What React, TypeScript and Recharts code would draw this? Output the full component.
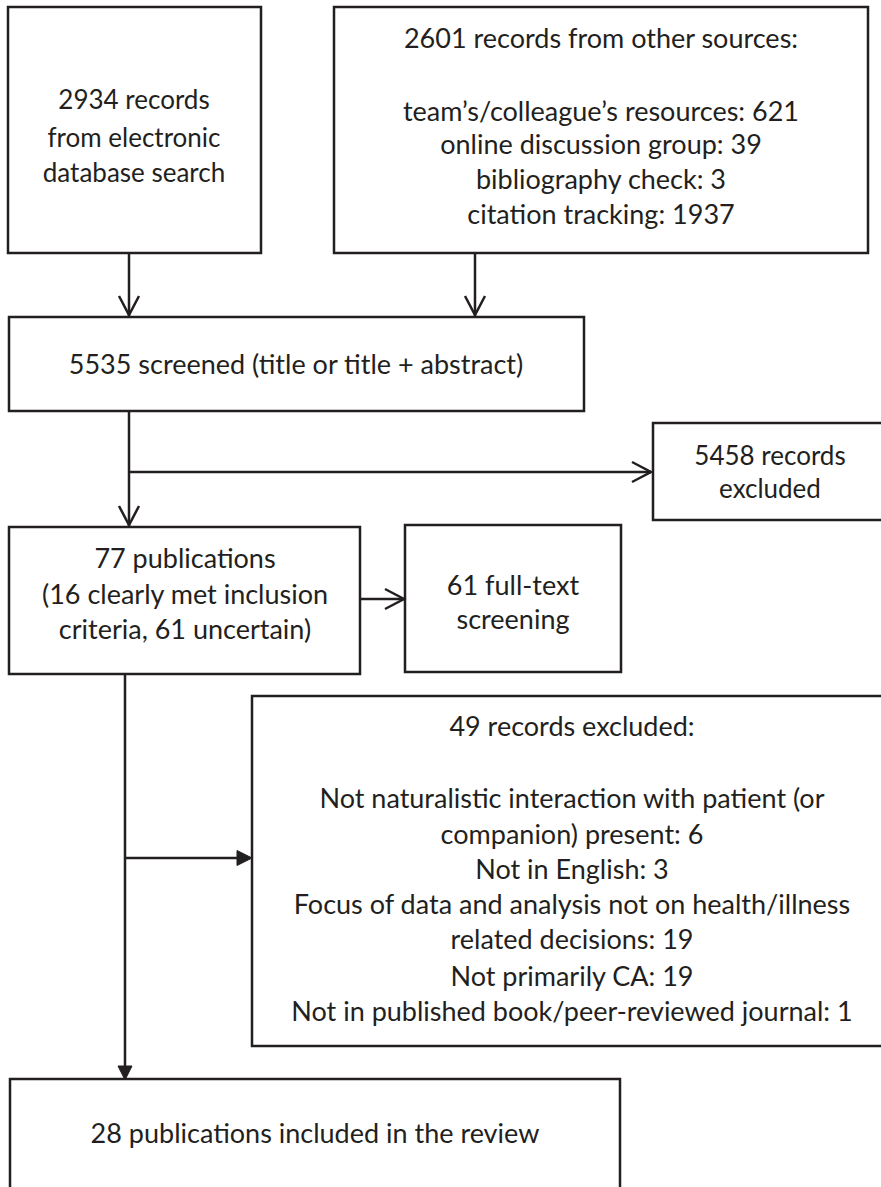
import React from "react";
import {
  ScatterChart,
  Scatter,
  XAxis,
  YAxis,
  ReferenceArea,
  ReferenceLine,
  ReferenceDot,
} from "recharts";

// ---------- data ----------
const databaseRecords = 2934;
const otherSourcesTotal = 2601;
const otherSourceLabels = [
  "team’s/colleague’s resources",
  "online discussion group",
  "bibliography check",
  "citation tracking",
];
const otherSourceCounts = [621, 39, 3, 1937];
const screenedCount = 5535;
const excludedAtScreening = 5458;
const publicationsCount = 77;
const clearlyMetCount = 16;
const uncertainCount = 61;
const fullTextCount = 61;
const excludedFullText = 49;
const exclusionReasons = [
  "Not naturalistic interaction with patient (or|companion) present",
  "Not in English",
  "Focus of data and analysis not on health/illness|related decisions",
  "Not primarily CA",
  "Not in published book/peer-reviewed journal",
];
const exclusionCounts = [6, 3, 19, 19, 1];
const includedCount = 28;

// ---------- texts built from the data ----------
const textA = [`${databaseRecords} records`, "from electronic", "database search"];
const textB = [
  `${otherSourcesTotal} records from other sources:`,
  ...otherSourceLabels.map((l, i) => `${l}: ${otherSourceCounts[i]}`),
];
const textC = [`${screenedCount} screened (title or title + abstract)`];
const textE = [`${excludedAtScreening} records`, "excluded"];
const textD = [
  `${publicationsCount} publications`,
  `(${clearlyMetCount} clearly met inclusion`,
  `criteria, ${uncertainCount} uncertain)`,
];
const textF = [`${fullTextCount} full-text`, "screening"];
const textG = [
  `${excludedFullText} records excluded:`,
  ...exclusionReasons.flatMap((r, i) => `${r}: ${exclusionCounts[i]}`.split("|")),
];
const textH = [`${includedCount} publications included in the review`];

// ---------- layout ----------
const W = 881;
const H = 1187;
const INK = "#231f20";
const SW = 2.5;

const boxes = [
  { x1: 8, x2: 261, y1: 7, y2: 253 },
  { x1: 334, x2: 868, y1: 7, y2: 253 },
  { x1: 9, x2: 584, y1: 317, y2: 411 },
  { x1: 653, x2: 900, y1: 423, y2: 520 },
  { x1: 9, x2: 360, y1: 527, y2: 674 },
  { x1: 405, x2: 621, y1: 525, y2: 672 },
  { x1: 252, x2: 900, y1: 696, y2: 1046 },
  { x1: 10, x2: 620, y1: 1079, y2: 1220 },
];

const textBlocks = [
  { lines: textA, cx: 134, ys: [99, 137, 172], size: 26 },
  { lines: textB, cx: 601, ys: [37, 110, 143, 178, 213], size: 27 },
  { lines: textC, cx: 296, ys: [363], size: 27 },
  { lines: textE, cx: 770, ys: [455, 488], size: 26 },
  { lines: textD, cx: 185, ys: [557, 593, 628], size: 27 },
  { lines: textF, cx: 513, ys: [584, 618], size: 27 },
  { lines: textG, cx: 572, ys: [725, 797, 833, 868, 903, 938, 975, 1010], size: 27 },
  { lines: textH, cx: 315, ys: [1132], size: 27 },
];

const labelPoints = textBlocks.flatMap((b) =>
  b.lines.map((t, i) => ({ x: b.cx, y: b.ys[i], text: t, size: b.size }))
);

const segments = [
  [{ x: 129, y: 253 }, { x: 129, y: 316 }],
  [{ x: 475, y: 253 }, { x: 475, y: 316 }],
  [{ x: 129, y: 411 }, { x: 129, y: 526 }],
  [{ x: 129, y: 472 }, { x: 651, y: 472 }],
  [{ x: 360, y: 599 }, { x: 404, y: 599 }],
  [{ x: 125, y: 674 }, { x: 125, y: 1070 }],
  [{ x: 125, y: 858 }, { x: 244, y: 858 }],
];

const heads = [
  { x: 129, y: 315, kind: "vDown" },
  { x: 475, y: 315, kind: "vDown" },
  { x: 129, y: 525, kind: "vDown" },
  { x: 651, y: 472, kind: "vRight" },
  { x: 404, y: 599, kind: "vRight" },
  { x: 125, y: 1080, kind: "tDown" },
  { x: 252, y: 858, kind: "tRight" },
];

const Head = (props: any) => {
  const { cx, cy, kind } = props;
  if (kind === "vDown")
    return (
      <path d={`M${cx - 10},${cy - 19} L${cx},${cy} L${cx + 10},${cy - 19}`} fill="none" stroke={INK} strokeWidth={SW} />
    );
  if (kind === "vRight")
    return (
      <path d={`M${cx - 19},${cy - 10} L${cx},${cy} L${cx - 19},${cy + 10}`} fill="none" stroke={INK} strokeWidth={SW} />
    );
  if (kind === "tDown")
    return <path d={`M${cx - 7},${cy - 14} L${cx},${cy} L${cx + 7},${cy - 14} Z`} fill={INK} stroke={INK} strokeWidth={1} />;
  return <path d={`M${cx - 15},${cy - 7.5} L${cx},${cy} L${cx - 15},${cy + 7.5} Z`} fill={INK} stroke={INK} strokeWidth={1} />;
};

const Label = (props: any) => {
  const { cx, cy, payload } = props;
  return (
    <text
      x={cx}
      y={cy}
      textAnchor="middle"
      dominantBaseline="central"
      fontFamily="Lato, 'Open Sans', sans-serif"
      fontSize={payload.size}
      fill={INK}
    >
      {payload.text}
    </text>
  );
};

export default function App() {
  return (
    <div style={{ position: "absolute", left: 0, top: 0, width: W, height: H, background: "#fff" }}>
      <ScatterChart width={W} height={H} margin={{ top: 0, right: 0, bottom: 0, left: 0 }}>
        <XAxis type="number" dataKey="x" domain={[0, W]} hide allowDataOverflow />
        <YAxis type="number" dataKey="y" domain={[0, H]} reversed hide allowDataOverflow />
        {boxes.map((b, i) => (
          <ReferenceArea
            key={`b${i}`}
            x1={b.x1}
            x2={b.x2}
            y1={b.y1}
            y2={b.y2}
            fill="#fff"
            fillOpacity={0}
            stroke={INK}
            strokeWidth={SW}
            ifOverflow="visible"
          />
        ))}
        {segments.map((s, i) => (
          <ReferenceLine key={`s${i}`} segment={s} stroke={INK} strokeWidth={SW} ifOverflow="visible" />
        ))}
        {heads.map((h, i) => (
          <ReferenceDot
            key={`h${i}`}
            x={h.x}
            y={h.y}
            r={1}
            ifOverflow="visible"
            shape={(p: any) => <Head {...p} kind={h.kind} />}
          />
        ))}
        <Scatter data={labelPoints} shape={<Label />} isAnimationActive={false} />
      </ScatterChart>
    </div>
  );
}
